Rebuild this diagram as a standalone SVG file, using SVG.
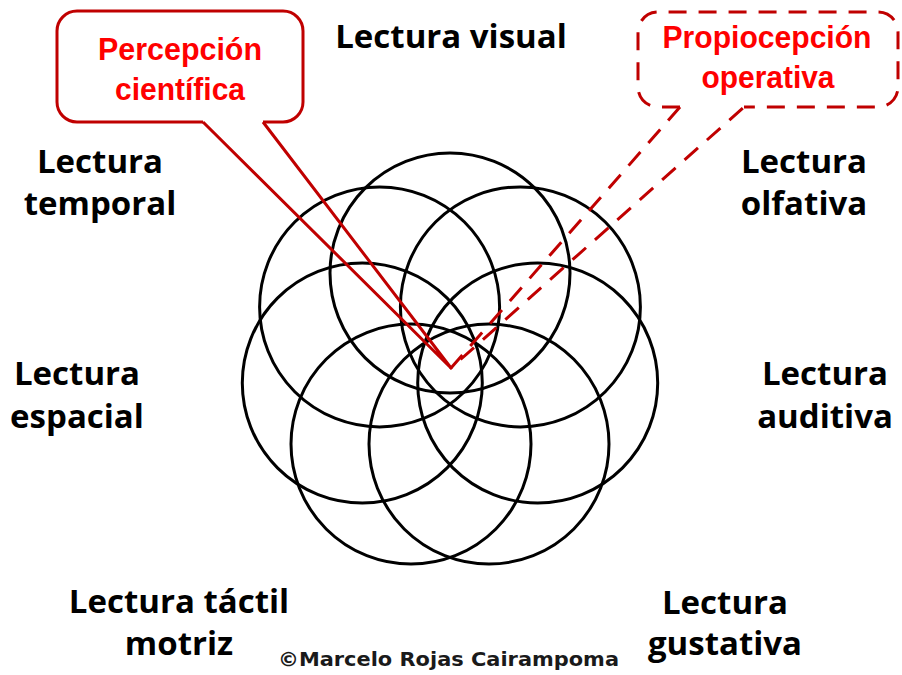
<svg xmlns="http://www.w3.org/2000/svg" width="902" height="675" viewBox="0 0 902 675">
<style>
.petal{fill:none;stroke:#000;stroke-width:3}
.lbl{font-family:"Open Sans","DejaVu Sans",sans-serif;font-weight:bold;font-size:33px;fill:#000;text-anchor:middle}
.red{font-family:"Liberation Sans",Arial,sans-serif;font-weight:bold;font-size:31px;fill:#FF0000;text-anchor:middle}
.box{fill:none;stroke:#C00000;stroke-width:3;stroke-linejoin:round}
.dash{stroke-dasharray:18 12}
.copy{font-family:"DejaVu Sans",Verdana,sans-serif;font-weight:bold;font-size:20px;fill:#1a1a1a}
</style>
<rect width="902" height="675" fill="#fff"/>
<g id="petals">
<circle class="petal" cx="450" cy="273" r="120"/>
<circle class="petal" cx="520.4" cy="306.9" r="120"/>
<circle class="petal" cx="537.7" cy="383" r="120"/>
<circle class="petal" cx="489" cy="444.1" r="120"/>
<circle class="petal" cx="411" cy="444.1" r="120"/>
<circle class="petal" cx="362.3" cy="383" r="120"/>
<circle class="petal" cx="379.6" cy="306.9" r="120"/>
</g>
<g id="lectura-visual"><text class="lbl" x="451" y="48">Lectura visual</text></g>
<g id="lectura-temporal"><text class="lbl" x="100" y="173">Lectura</text><text class="lbl" x="100" y="215">temporal</text></g>
<g id="lectura-olfativa"><text class="lbl" x="804" y="173">Lectura</text><text class="lbl" x="804" y="215">olfativa</text></g>
<g id="lectura-espacial"><text class="lbl" x="77" y="385">Lectura</text><text class="lbl" x="77" y="428">espacial</text></g>
<g id="lectura-auditiva"><text class="lbl" x="825" y="385">Lectura</text><text class="lbl" x="825" y="428">auditiva</text></g>
<g id="lectura-tactil-motriz"><text class="lbl" x="179" y="613">Lectura táctil</text><text class="lbl" x="179" y="655">motriz</text></g>
<g id="lectura-gustativa"><text class="lbl" x="725" y="614">Lectura</text><text class="lbl" x="725" y="655">gustativa</text></g>
<g id="percepcion-cientifica">
<path class="box" d="M203,122 H77 A20,20 0 0 1 57,102 V31 A20,20 0 0 1 77,11 H283 A20,20 0 0 1 303,31 V102 A20,20 0 0 1 283,122 H263"/>
<text class="red" x="180" y="60" textLength="164" lengthAdjust="spacingAndGlyphs">Percepción</text>
<text class="red" x="180" y="100" textLength="130" lengthAdjust="spacingAndGlyphs">científica</text>
</g>
<g id="propiocepcion-operativa">
<path class="box dash" d="M680,107 H658 A20,20 0 0 1 638,87 V32 A20,20 0 0 1 658,12 H878 A20,20 0 0 1 898,32 V87 A20,20 0 0 1 878,107 H744"/>
<text class="red" x="767" y="48" textLength="209" lengthAdjust="spacingAndGlyphs">Propiocepción</text>
<text class="red" x="768" y="88" textLength="133" lengthAdjust="spacingAndGlyphs">operativa</text>
</g>
<g id="connectors">
<polyline class="box" points="203,122 451,368 263,122"/>
<polyline class="box dash" points="680,107 451,368 744,107"/>
</g>
<g id="credit"><text class="copy" x="278" y="666" textLength="341" lengthAdjust="spacingAndGlyphs">©Marcelo Rojas Cairampoma</text></g>
</svg>
